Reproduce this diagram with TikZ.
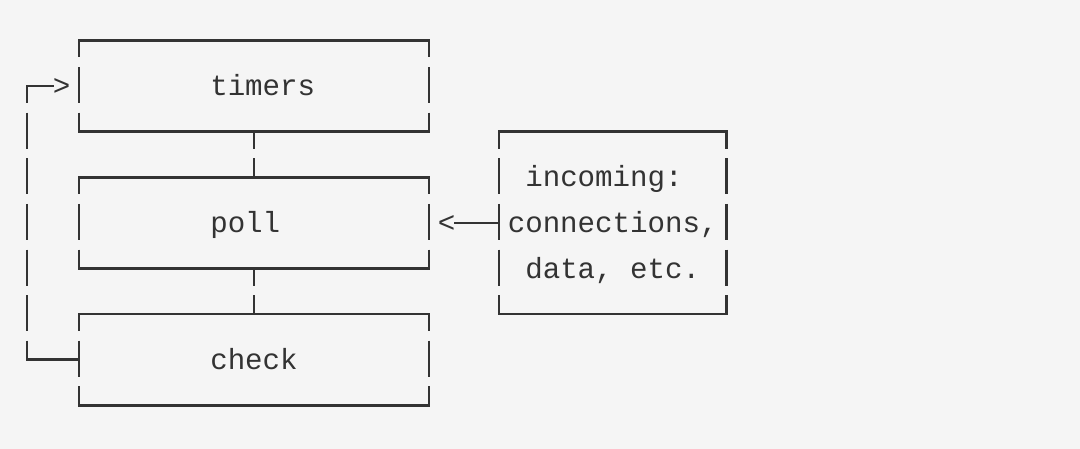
\documentclass[tikz,border=0pt]{standalone}
\usepackage{fontspec}
\newfontfamily\asciifont{Liberation Mono}
\usepackage{xcolor}
\usepackage{tikz}
\definecolor{ink}{HTML}{333333}
\definecolor{paper}{HTML}{F5F5F5}
\tikzset{cell/.style={rectangle, inner sep=0pt, outer sep=0pt},
         rule/.style={draw=ink, line width=1.25pt, line cap=rect},
         bars/.style={draw=ink, line width=1.25pt, dash pattern=on 18pt off 4.8pt, dash phase=9.5pt},
         glyph/.style={inner sep=0pt, outer sep=0pt, text=ink, anchor=base west,
                       font=\asciifont\fontsize{14.58pt}{22.8pt}\selectfont}}

\begin{document}
\begin{tikzpicture} [x=0.5pt, y=-0.5pt]
\fill[paper] (0,0) rectangle (1080,449);
% phase boxes
\node[cell, minimum width=175pt, minimum height=45.6pt] (timers) at (254,86.1) {};
\node[cell, minimum width=175pt, minimum height=45.6pt] (poll) at (254,222.9) {};
\node[cell, minimum width=175pt, minimum height=45.6pt] (check) at (254,359.7) {};
\node[cell, minimum width=113.75pt, minimum height=91.2pt] (inc) at (612.75,222.9) {};
\foreach \b in {timers,poll,check,inc} {
  \draw[rule] (\b.north west) -- (\b.north east);
  \draw[rule] (\b.south west) -- (\b.south east);
  \draw[bars] (\b.north west) -- (\b.south west);
  \draw[bars] (\b.north east) -- (\b.south east);
}
\node[glyph] (timers text) at (210.25,95.6) {timers};
\node[glyph] (poll text) at (210.25,232.4) {poll};
\node[glyph] (check text) at (210.25,369.2) {check};
\node[glyph] (inc text a) at (525.25,186.8) {incoming:};
\node[glyph] (inc text b) at (507.75,232.4) {connections,};
\node[glyph] (inc text c) at (525.25,278) {data, etc.};
% links
\draw[bars] (timers.south) -- (poll.north);
\draw[bars] (poll.south) -- (check.north);
\coordinate (loop top) at (27,86.1);
\coordinate (loop bottom) at (27,359.7);
\node[glyph] (gt) at (52.75,95.6) {>};
\draw[bars] (loop top) -- (loop bottom);
\draw[rule] (loop bottom) -- (check.west);
\draw[rule] (loop top) -- (loop top -| gt.west);
\node[glyph] (lt) at (437.75,232.4) {<};
\draw[rule] (inc.west) -- (inc.west -| lt.east);
\end{tikzpicture}
\end{document}
